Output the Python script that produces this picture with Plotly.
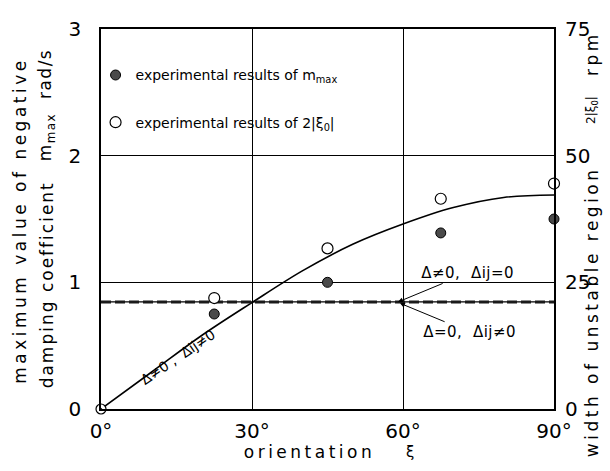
import plotly.graph_objects as go

# Orientation angles (degrees) at which the experiments were run
angle_deg = [22.5, 45, 67.5, 90]
# Experimental maximum negative damping coefficient m_max (rad/s)
m_max_exp = [0.75, 1.0, 1.39, 1.5]
# Experimental width of the unstable region 2|xi0| (rpm)
width_exp = [21.9, 31.7, 41.5, 44.5]

# Calculated m_max for Delta!=0, Delta_ij!=0
curve_deg = [0, 10, 20, 30, 40, 50, 60, 70, 80, 90]
curve_m = [0, 0.29, 0.58, 0.84, 1.09, 1.30, 1.46, 1.59, 1.67, 1.69]

# Calculated m_max, independent of orientation (both limiting cases)
level_deg = [0, 90]
level_m = [0.845, 0.845]

x_ticks = [0, 30, 60, 90]
x_ticktext = ["0°", "30°", "60°", "90°"]
y_ticks = [0, 1, 2, 3]
y2_ticks = [0, 25, 50, 75]

FONT = "DejaVu Sans"

fig = go.Figure()
fig.add_trace(go.Scatter(x=curve_deg, y=curve_m, mode="lines",
                         line=dict(color="black", width=1.6, shape="spline"),
                         showlegend=False))
fig.add_trace(go.Scatter(x=level_deg, y=level_m, mode="lines",
                         line=dict(color="black", width=1.2), showlegend=False))
fig.add_trace(go.Scatter(x=level_deg, y=level_m, mode="lines",
                         line=dict(color="#1a1a1a", width=3, dash="10px,4px"),
                         showlegend=False))
fig.add_trace(go.Scatter(x=angle_deg, y=m_max_exp, mode="markers",
                         marker=dict(symbol="circle", size=10, color="#4a4a4a",
                                     line=dict(color="black", width=1)),
                         name="experimental results of m<sub>max</sub>",
                         legendgroup="a", cliponaxis=False))
fig.add_trace(go.Scatter(x=angle_deg, y=width_exp, yaxis="y2", mode="markers",
                         marker=dict(symbol="circle", size=11, color="white",
                                     line=dict(color="black", width=1.2)),
                         name="experimental results of 2|ξ<sub>0</sub>|",
                         legendgroup="b", cliponaxis=False))
fig.add_trace(go.Scatter(x=[0], y=[0], mode="markers",
                         marker=dict(symbol="circle-dot", size=10, color="white",
                                     line=dict(color="black", width=1.2)),
                         showlegend=False, cliponaxis=False))


def label(text, x, y, size=17, angle=0):
    return dict(text=text, xref="paper", yref="paper", x=x, y=y,
                xanchor="center", yanchor="middle", textangle=angle,
                showarrow=False, font=dict(size=size, family=FONT))


# letter spacing (px) for each annotation, applied after drawing
ann = []
spacing = []

# left axis title, two columns
ann.append(label("maximum value of negative", -0.179, 0.497, angle=-90)); spacing.append(3.5)
ann.append(label("damping coefficient", -0.119, 0.326, angle=-90)); spacing.append(2.0)
ann.append(label("m<sub>max</sub>  rad/s", -0.119, 0.80, angle=-90)); spacing.append(1.5)
# right axis title
ann.append(label("width of unstable region", 1.084, 0.255, angle=-90)); spacing.append(3.5)
ann.append(label("2|ξ<sub>0</sub>|", 1.084, 0.787, size=12, angle=-90)); spacing.append(0)
ann.append(label("rpm", 1.084, 0.935, angle=-90)); spacing.append(3.5)
# x axis title
ann.append(label("orientation", 0.46, -0.113)); spacing.append(3.5)
ann.append(label("ξ", 0.682, -0.113, size=15)); spacing.append(0)
# curve labels
ann.append(dict(text="Δ≠0 ,  Δij≠0", x=15.3, y=0.41, textangle=-34,
                showarrow=False, font=dict(size=14, family=FONT))); spacing.append(0)
ann.append(dict(text="Δ≠0,  Δij=0", x=59.0, y=0.845, ax=70, ay=-29,
                showarrow=True, arrowhead=2, arrowsize=1, arrowwidth=1,
                arrowcolor="black", font=dict(size=15, family=FONT))); spacing.append(0.5)
ann.append(dict(text="Δ=0,  Δij≠0", x=59.4, y=0.835, ax=70, ay=29,
                showarrow=True, arrowhead=2, arrowsize=1, arrowwidth=1,
                arrowcolor="black", font=dict(size=15, family=FONT))); spacing.append(0.5)

axis_common = dict(showline=True, linecolor="black", linewidth=1.5, mirror=True,
                   zeroline=False, gridcolor="black", gridwidth=1)

fig.update_layout(
    width=610, height=471,
    margin=dict(l=101, r=56, t=29, b=62),
    paper_bgcolor="white", plot_bgcolor="white",
    font=dict(family=FONT, color="black"),
    xaxis=dict(range=[0, 90], tickvals=x_ticks, ticktext=x_ticktext,
               showgrid=True, ticks="", tickfont=dict(size=20),
               ticklabelstandoff=3, **axis_common),
    yaxis=dict(range=[0, 3], tickvals=y_ticks, showgrid=True, ticks="",
               tickfont=dict(size=20), ticklabelstandoff=14, **axis_common),
    yaxis2=dict(range=[0, 75], tickvals=y2_ticks, overlaying="y", side="right",
                showgrid=False, zeroline=False, ticks="inside", ticklen=8,
                tickcolor="black", tickfont=dict(size=20), showline=False,
                ticklabelstandoff=10),
    legend=dict(x=-0.012, y=0.92, xanchor="left", yanchor="top",
                bgcolor="rgba(0,0,0,0)", font=dict(size=14, family=FONT),
                tracegroupgap=26, traceorder="grouped"),
    annotations=ann,
)

# Widen the letter spacing of the lettered titles
spacing_js = """
var gd = document.getElementById('{plot_id}');
var sp = %s;
function spaceOut() {
  gd.querySelectorAll('g.annotation').forEach(function (g) {
    var i = parseInt(g.getAttribute('data-index'));
    var t = g.querySelector('.annotation-text');
    if (t && sp[i]) { t.style.letterSpacing = sp[i] + 'px'; }
  });
}
spaceOut();
gd.on('plotly_afterplot', spaceOut);
""" % str(spacing)

fig.write_html("out.html", post_script=spacing_js)
